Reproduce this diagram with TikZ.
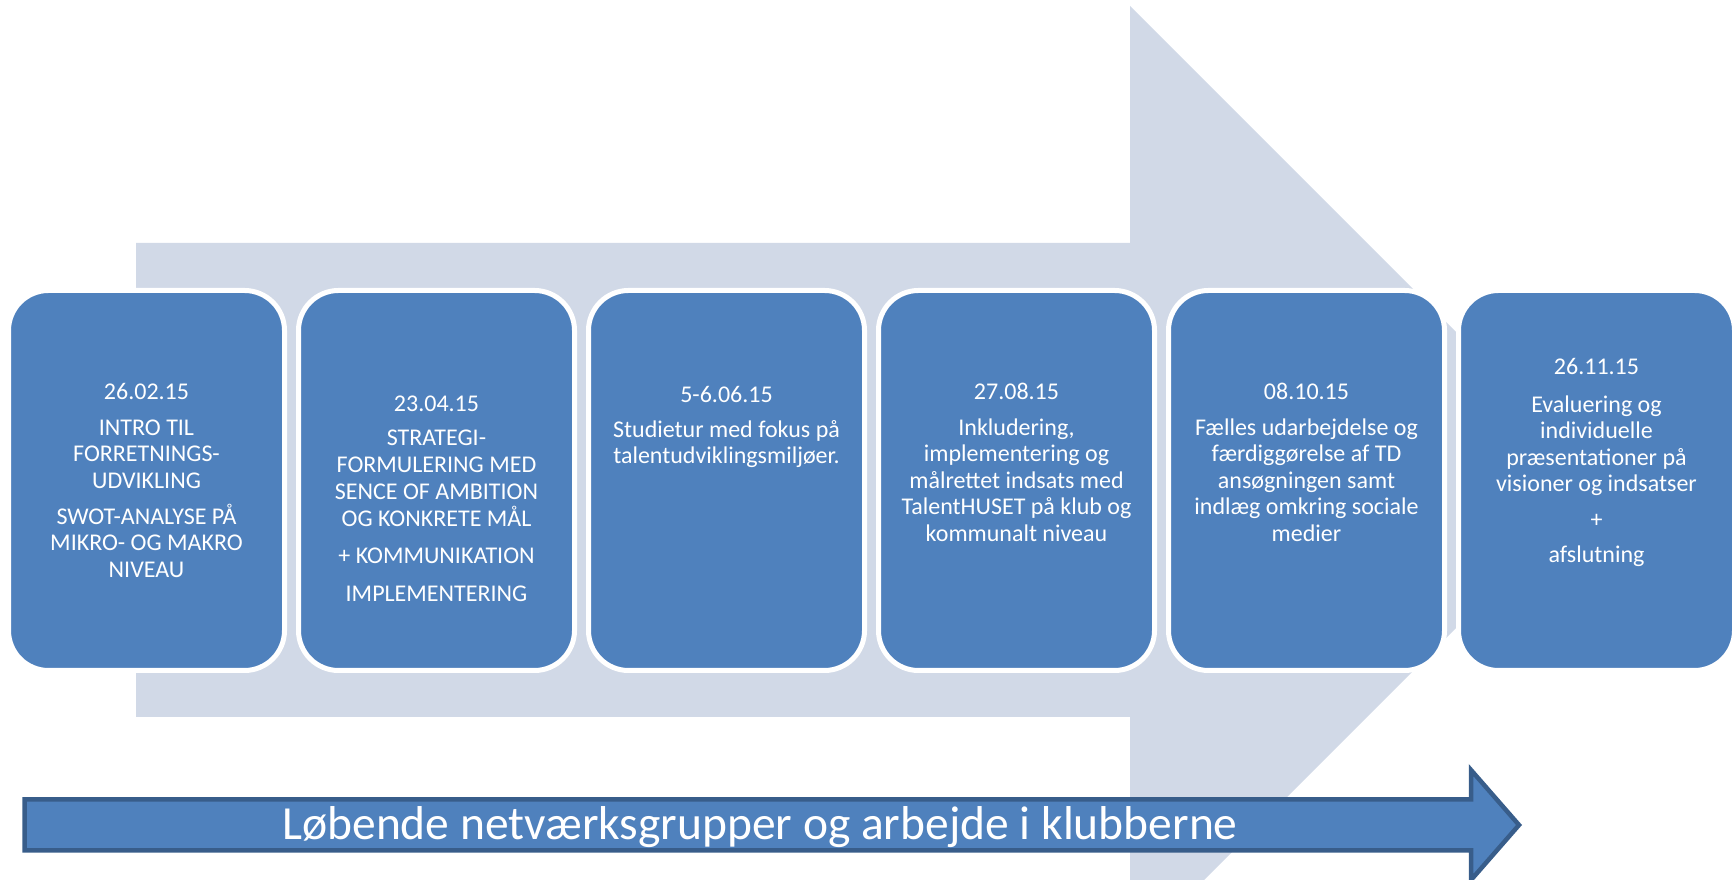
\documentclass[tikz,border=0pt]{standalone}
\usepackage{fontspec}
\setmainfont{Carlito}
\usepackage{xcolor}
\usepackage{tikz}

\definecolor{boxblue}{HTML}{4F81BD}
\definecolor{bgarrow}{HTML}{D1D9E7}
\definecolor{arrowedge}{HTML}{385D8A}

\begin{document}
\begin{tikzpicture}[x=1pt,y=1pt]
\tikzstyle{every node}+=[inner sep=0pt]
\tikzstyle{datebox}=[rectangle, rounded corners=40pt, fill=boxblue, draw=white, line width=5pt, minimum width=276pt, minimum height=380pt]
\tikzstyle{boxtext}=[text=white, align=center, anchor=north, font=\fontsize{24}{26.4}\selectfont]
\useasboundingbox (0,0) rectangle (1735,880);
% big arrow in the back
\begin{scope}
\clip (0,0) rectangle (1735,880);
\fill [bgarrow] (136,637) -- (1130,637) -- (1130,874) -- (1457,547) -- (1457,253) -- (1130,-74) -- (1130,163) -- (136,163) -- cycle;
\end{scope}
% the six meetings
\node [datebox] (b1) at (146.5,399.5) {};
\node [datebox] (b2) at (436.5,399.5) {};
\node [datebox] (b3) at (726.5,399.5) {};
\node [datebox] (b4) at (1016.5,399.5) {};
\node [datebox] (b5) at (1306.5,399.5) {};
\node [datebox] (b6) at (1596.5,399.5) {};
\node [boxtext] (t1) at (146.5,497) {26.02.15\\[9.6pt] INTRO TIL\\ FORRETNINGS-\\ UDVIKLING\\[9.6pt] SWOT-ANALYSE PÅ\\ MIKRO- OG MAKRO\\ NIVEAU};
\node [boxtext] (t2) at (436.5,484) {23.04.15\\[7.6pt] STRATEGI-\\[0.6pt] FORMULERING MED\\[0.6pt] SENCE OF AMBITION\\[0.6pt] OG KONKRETE MÅL\\[10.6pt] + KOMMUNIKATION\\[11.6pt] IMPLEMENTERING};
\node [boxtext] (t3) at (726.5,494) {5-6.06.15\\[8.6pt] Studietur med fokus på\\ talentudviklingsmiljøer.};
\node [boxtext] (t4) at (1016.5,497) {27.08.15\\[9.6pt] Inkludering,\\ implementering og\\ målrettet indsats med\\ TalentHUSET på klub og\\ kommunalt niveau};
\node [boxtext] (t5) at (1306.5,497) {08.10.15\\[9.6pt] Fælles udarbejdelse og\\ færdiggørelse af TD\\ ansøgningen samt\\ indlæg omkring sociale\\ medier};
\node [boxtext] (t6) at (1596.5,522) {26.11.15\\[11.6pt] Evaluering og\\ individuelle\\ præsentationer på\\ visioner og indsatser\\[9.6pt] +\\[8.6pt] afslutning};
% running arrow at the bottom
\draw [arrowedge, line width=4.5pt, fill=boxblue, line join=miter] (24.5,80.5) -- (1471,80.5) -- (1471,110) -- (1519,55) -- (1471,0) -- (1471,29.5) -- (24.5,29.5) -- cycle;
\node [text=white, anchor=base, font=\fontsize{47.5}{52}\selectfont] (band) at (760,40) {Løbende netværksgrupper og arbejde i klubberne};
\end{tikzpicture}
\end{document}
